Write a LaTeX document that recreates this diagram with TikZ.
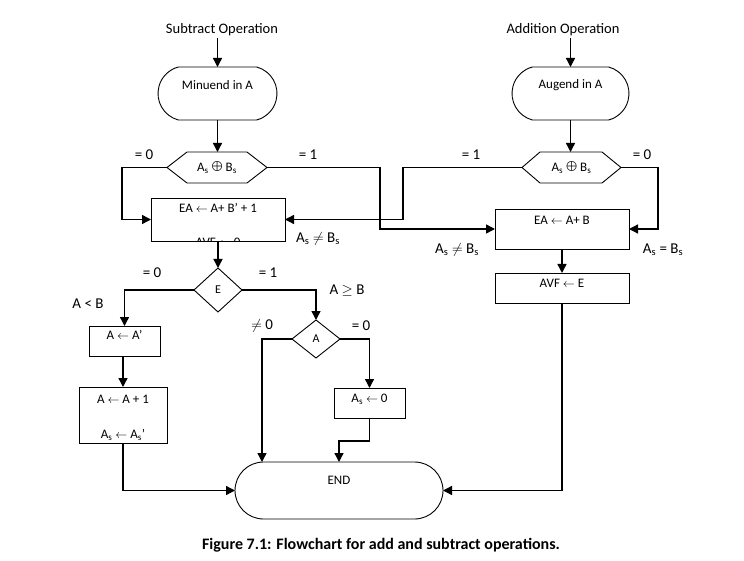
\documentclass[tikz,border=0pt]{standalone}
\usepackage{fontspec}
\setmainfont{Carlito}
\usetikzlibrary{arrows.meta,shapes.misc,shapes.geometric,calc}
\newcommand{\myxor}{{\fontsize{17}{17}\selectfont$\bigoplus$}}
\begin{document}
\begin{tikzpicture}[x=1pt,y=-1pt,
  box/.style={draw,line width=0.9pt,rectangle,inner sep=0pt,outer sep=0pt},
  stad/.style={draw,line width=0.9pt,rounded rectangle,rounded rectangle arc length=150,inner sep=0pt,outer sep=0pt},
  dia/.style={draw,line width=0.9pt,diamond,inner sep=0pt,outer sep=0pt,font=\fontsize{12}{14}\selectfont},
  hexbase/.style={rectangle,inner sep=0pt,outer sep=0pt,minimum height=31pt,font=\fontsize{13}{15}\selectfont},
  txt/.style={inner sep=0pt,font=\fontsize{13}{15}\selectfont},
  lab/.style={inner sep=0pt,font=\fontsize{15}{17}\selectfont},
  ttl/.style={inner sep=2pt,font=\fontsize{14.5}{17}\selectfont},
  arr/.style={line width=1.4pt,-{Triangle[length=9pt,width=9pt]}},
  ln/.style={line width=1.4pt}
]
\useasboundingbox (0,0) rectangle (744,561);

% titles
\node[ttl] (t1) at (222,30) {Subtract Operation};
\node[ttl] (t2) at (563,30) {Addition Operation};

% start terminals
\node[stad,minimum width=119pt,minimum height=53pt] (min) at (217.5,93.5) {};
\node[txt] (mint) at (217.5,85) {Minuend in A};
\node[stad,minimum width=117pt,minimum height=53pt] (aug) at (570.5,93.5) {};
\node[txt] (augt) at (570.5,85) {Augend in A};

% hexagons
\node[hexbase,minimum width=100pt] (h1) at (217,167.5) {A\textsubscript{s} \myxor{} B\textsubscript{s}};
\draw[line width=0.9pt] (h1.west) -- ([xshift=20pt]h1.north west) -- ([xshift=-20pt]h1.north east) -- (h1.east) -- ([xshift=-20pt]h1.south east) -- ([xshift=20pt]h1.south west) -- cycle;
\node[hexbase,minimum width=99pt] (h2) at (571.5,167.5) {A\textsubscript{s} \myxor{} B\textsubscript{s}};
\draw[line width=0.9pt] (h2.west) -- ([xshift=18pt]h2.north west) -- ([xshift=-19pt]h2.north east) -- (h2.east) -- ([xshift=-19pt]h2.south east) -- ([xshift=18pt]h2.south west) -- cycle;

% subtract box
\node[box,minimum width=134pt,minimum height=43pt] (b1) at (218,219.5) {};
\node[txt] (b1t) at (218,208) {EA $\leftarrow$ A+ B’ + 1};
\begin{scope}
  \clip (b1.north west) rectangle (b1.south east);
  \node[txt,anchor=base] (b1u) at (218,247) {AVF $\leftarrow$ 0};
\end{scope}

% addition boxes
\node[box,minimum width=134pt,minimum height=40pt] (b5) at (562,229) {};
\node[txt] (b5t) at (562,220) {EA $\leftarrow$ A+ B};
\node[box,minimum width=134pt,minimum height=30pt] (b6) at (562,288) {};
\node[txt] (b6t) at (562,283) {AVF $\leftarrow$ E};

% E decision
\node[dia,minimum width=48pt,minimum height=44pt] (d1) at (218,290) {E};
\node[box,minimum width=71pt,minimum height=30pt] (b2) at (124.5,341) {};
\node[txt] (b2t) at (124.5,335) {A $\leftarrow$ A’};
\node[box,minimum width=88pt,minimum height=56pt] (b3) at (123,415) {};
\node[txt] (b3t) at (123,399) {A $\leftarrow$ A + 1};
\node[txt] (b3u) at (123,435) {A\textsubscript{s} $\leftarrow$ A\textsubscript{s}’};

% A decision
\node[dia,minimum width=48pt,minimum height=38pt] (d2) at (316,339) {A};
\node[box,minimum width=71pt,minimum height=30pt] (b4) at (369.5,403) {};
\node[txt] (b4t) at (369.5,399) {A\textsubscript{s} $\leftarrow$ 0};

% end
\node[draw,line width=0.9pt,rounded rectangle,inner sep=0pt,outer sep=0pt,minimum width=208pt,minimum height=57pt] (end) at (339,490.5) {};
\node[txt] (endt) at (339,480) {END};

% corner coordinates
\coordinate (k1) at (380,229);
\coordinate (k2) at (403,219.5);
\coordinate (k3) at (658,229);
\coordinate (k0) at (122,219.5);

% connectors
\draw[arr] (min.north |- t1.south) -- (min.north);
\draw[arr] (aug.north |- t2.south) -- (aug.north);
\draw[arr] (min.south) -- (h1.north -| min.south);
\draw[arr] (aug.south) -- (h2.north -| aug.south);
\draw[arr] (h1.west) -| (k0) -- (b1.west);
\draw[arr] (h1.east) -| (k1) -- (b5.west);
\draw[arr] (h2.west) -| (k2) -- (b1.east);
\draw[arr] (h2.east) -| (k3) -- (b5.east);
\draw[arr] (b5.south) -- (b6.north);
\draw[arr] (b1.south) -- (d1.north);
\draw[arr] (d1.west) -| (b2.north);
\draw[arr] (b2.south -| b3.north) -- (b3.north);
\draw[arr] (b3.south) |- (end.west);
\draw[arr] (d1.east) -| (d2.north);
\draw[arr] (d2.west) -| ($(end.north)+(-77,0)$);
\draw[arr] (d2.east) -| (b4.north);
\draw[arr] (b4.south) -- ++(0,23) -| (end.north);
\draw[arr] (b6.south) |- (end.east);

% labels
\node[lab] (l1) at (144,155) {= 0};
\node[lab] (l2) at (308,155) {= 1};
\node[lab] (l3) at (471,155) {= 1};
\node[lab] (l4) at (642,155) {= 0};
\node[lab] (l5) at (318,239) {A\textsubscript{s} $\neq$ B\textsubscript{s}};
\node[lab] (l6) at (457,250) {A\textsubscript{s} $\neq$ B\textsubscript{s}};
\node[lab] (l7) at (663,250) {A\textsubscript{s} = B\textsubscript{s}};
\node[lab] (l8) at (152,273) {= 0};
\node[lab] (l9) at (268,273) {= 1};
\node[lab] (l10) at (88,304) {A < B};
\node[lab] (l11) at (347,291) {A $\geq$ B};
\node[lab] (l12) at (262,326) {$\neq$ 0};
\node[lab] (l13) at (361,326) {= 0};

% caption
\node[inner sep=0pt,font=\bfseries\fontsize{16}{18}\selectfont] (cap) at (381,545) {Figure 7.1: Flowchart for add and subtract operations.};
\end{tikzpicture}
\end{document}
